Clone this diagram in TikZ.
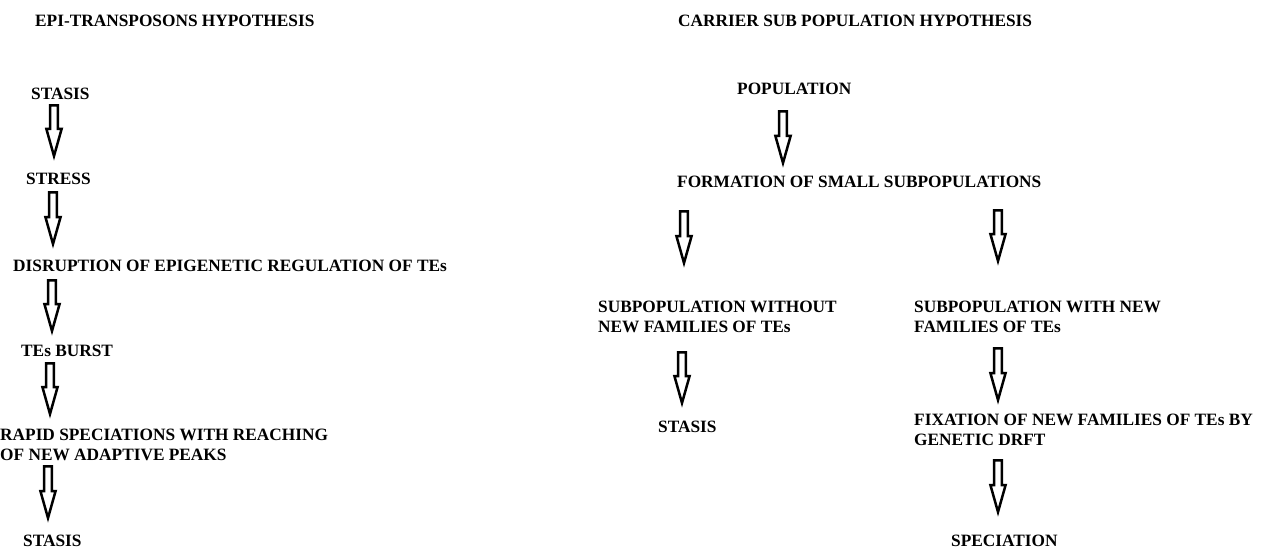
\documentclass[tikz,border=0pt]{standalone}
\usepackage{fontspec}
\setmainfont{Liberation Serif}
\usetikzlibrary{calc}

% hollow block arrow pointing down from coordinate #1 (top of shaft) to #2 (tip)
% (y axis points down in this picture, so "above the tip" is a negative offset)
\newcommand{\hollowdown}[2]{%
  \draw[hollow] ($(#1)+(-3.8,0)$) -- ($(#2)+(-3.8,-27)$) -- ($(#2)+(-7.6,-27)$)
    -- (#2) -- ($(#2)+(7.6,-27)$) -- ($(#2)+(3.8,-27)$) -- ($(#1)+(3.8,0)$) -- cycle;}

\begin{document}
\begin{tikzpicture}[x=1pt,y=-1pt,
  lbl/.style={anchor=west,inner sep=0pt,align=left,
    font=\fontsize{17.3}{20}\selectfont\bfseries},
  hollow/.style={draw=black,line width=2.5pt,line join=miter,fill=white}]
\useasboundingbox (0,0) rectangle (1263,548);

% ---- left column: epi-transposons hypothesis ----
\node[lbl] (t1) at (35,21) {EPI-TRANSPOSONS HYPOTHESIS};
\node[lbl] (s1) at (31,94) {STASIS};
\node[lbl] (st) at (26,179) {STRESS};
\node[lbl] (dr) at (13,266) {DISRUPTION OF EPIGENETIC REGULATION OF TEs};
\node[lbl] (tb) at (21,351) {TEs BURST};
\node[lbl] (rs) at (0,445) {RAPID SPECIATIONS WITH REACHING\\OF NEW ADAPTIVE PEAKS};
\node[lbl] (s2) at (23,541) {STASIS};

\coordinate (a1t) at (54,105.3);  \coordinate (a1b) at (54,156);
\coordinate (a2t) at (53,192.3);  \coordinate (a2b) at (53,244);
\coordinate (a3t) at (52,280.3);  \coordinate (a3b) at (52,331);
\coordinate (a4t) at (50,363.3);  \coordinate (a4b) at (50,414);
\coordinate (a5t) at (48,466.3);  \coordinate (a5b) at (48,518);
\hollowdown{a1t}{a1b}
\hollowdown{a2t}{a2b}
\hollowdown{a3t}{a3b}
\hollowdown{a4t}{a4b}
\hollowdown{a5t}{a5b}

% ---- right column: carrier sub population hypothesis ----
\node[lbl] (t2) at (678,21) {CARRIER SUB POPULATION HYPOTHESIS};
\node[lbl] (po) at (737,89) {POPULATION};
\node[lbl] (fo) at (677,182) {FORMATION OF SMALL SUBPOPULATIONS};
\node[lbl] (sw) at (598,317) {SUBPOPULATION WITHOUT\\NEW FAMILIES OF TEs};
\node[lbl] (sn) at (914,317) {SUBPOPULATION WITH NEW\\FAMILIES OF TEs};
\node[lbl] (s3) at (658,427) {STASIS};
\node[lbl] (fx) at (914,429.5) {FIXATION OF NEW FAMILIES OF TEs BY\\GENETIC DRFT};
\node[lbl] (sp) at (951,541) {SPECIATION};

\coordinate (b1t) at (783,111.3);  \coordinate (b1b) at (783,163);
\coordinate (b2t) at (684,211.3);  \coordinate (b2b) at (684,263);
\coordinate (b3t) at (998,210.3);  \coordinate (b3b) at (998,261);
\coordinate (b4t) at (682,352.3);  \coordinate (b4b) at (682,403);
\coordinate (b5t) at (998,348.3);  \coordinate (b5b) at (998,400);
\coordinate (b6t) at (998,460.3);  \coordinate (b6b) at (998,512);
\hollowdown{b1t}{b1b}
\hollowdown{b2t}{b2b}
\hollowdown{b3t}{b3b}
\hollowdown{b4t}{b4b}
\hollowdown{b5t}{b5b}
\hollowdown{b6t}{b6b}
\end{tikzpicture}
\end{document}
